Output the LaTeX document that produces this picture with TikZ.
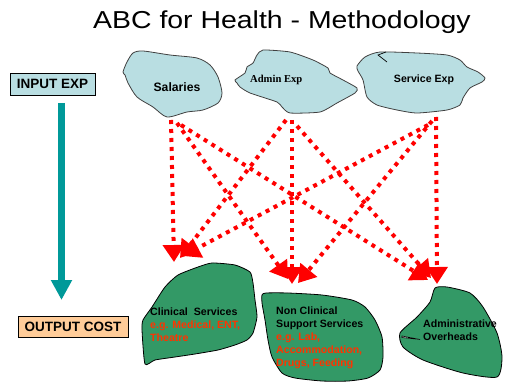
\documentclass[tikz,border=0pt]{standalone}
\usepackage{fontspec}
\setmainfont{Liberation Sans}
\newfontfamily\serifbold{Liberation Serif}
\newfontfamily\titlefont[FakeStretch=1.16]{Liberation Sans}
\usetikzlibrary{arrows.meta}
\definecolor{costblue}{HTML}{B9DEE2}
\definecolor{costgreen}{HTML}{339966}
\definecolor{costpeach}{HTML}{FFCC99}
\definecolor{costteal}{HTML}{009999}
\definecolor{egred}{HTML}{FF3300}
\begin{document}
\begin{tikzpicture}[x=1pt,y=-1pt,
  inblob/.style={fill=costblue,draw=black!75,line width=0.8pt},
  outblob/.style={fill=costgreen,draw=black,line width=0.8pt},
  labelbox/.style={draw=black,line width=0.8pt,font=\fontsize{13.5}{15}\selectfont\bfseries,inner sep=0pt},
  blobtext/.style={font=\fontsize{10.6}{13}\selectfont\bfseries,align=left,inner sep=0pt},
  flow/.style={draw=red,line width=4pt,dash pattern=on 4pt off 5pt,-{Triangle[length=17pt,width=21pt]}}]
\useasboundingbox (0,0) rectangle (506,385);

% title
\node[anchor=base,font=\titlefont\fontsize{24.5}{28}\selectfont] (title) at (282,29) {ABC for Health - Methodology};

% input and output labels
\node[labelbox,fill=costblue,minimum width=85pt,minimum height=22pt] (inexp) at (52.5,84) {INPUT EXP};
\node[labelbox,fill=costpeach,minimum width=110pt,minimum height=21pt] (outcost) at (73,326.5) {OUTPUT COST};
\coordinate (down-top) at (61.5,103);
\coordinate (down-end) at (61.5,300);
\draw[costteal,line width=7pt,-{Triangle[length=20pt,width=20pt]}] (down-top) -- (down-end);

% expense pools
\draw[inblob] plot[smooth cycle,tension=0.45] coordinates {
  (123,72) (127,62) (133,53) (143,51) (170,55) (197,58) (210,65) (218,77) (222,93)
  (218,103) (203,110) (187,112) (167,117) (153,107) (137,97) (128,83) (125,75)};
\node[font=\fontsize{12.2}{14}\selectfont\bfseries] (sal) at (177,87) {Salaries};

\draw[inblob] plot[smooth cycle,tension=0.35] coordinates {
  (235,80) (245,73) (247,67) (253,63) (257,55) (263,50) (290,52) (313,60) (328,68)
  (330,73) (343,80) (357,88) (355,93) (337,103) (320,112) (290,113) (282,107)
  (277,102) (250,93) (240,87) (237,83)};
\node[font=\fontsize{10.6}{12}\selectfont\serifbold\bfseries,anchor=west,inner sep=0pt] (adm) at (250,80) {Admin Exp};

\draw[inblob] plot[smooth cycle,tension=0.4] coordinates {
  (357,66) (365,57) (380,52) (417,53) (447,55) (460,60) (467,67) (478,72) (485,78)
  (482,82) (470,88) (463,98) (460,105) (447,110) (417,113) (397,110) (377,105)
  (367,97) (363,80) (358,71)};
\draw[black,line width=0.7pt] (386,52) -- (378,55) -- (387,62);
\node[font=\fontsize{10.6}{12}\selectfont\bfseries] (srv) at (424,80) {Service Exp};

% cost objects
\draw[outblob] plot[smooth cycle,tension=0.35] coordinates {
  (145,364) (142,330) (143,320) (152,307) (165,287) (178,275) (198,267) (212,263)
  (235,265) (250,272) (253,283) (255,300) (257,317) (253,333) (247,340) (235,345)
  (218,350) (195,354) (175,357) (155,360)};
\node[blobtext,anchor=west] (clin) at (150,325)
  {Clinical\ \ Services\\\textcolor{egred}{e.g. Medical, ENT,}\\\textcolor{egred}{Theatre}};

\draw[outblob] plot[smooth cycle,tension=0.4] coordinates {
  (262,295) (266,293) (288,293) (322,295) (352,300) (365,307) (375,320) (382,337)
  (383,357) (380,370) (368,378) (348,381) (322,381) (295,378) (282,373) (272,357)
  (268,340) (265,320) (262,303)};
\node[blobtext,anchor=west] (nonclin) at (276,338)
  {Non Clinical\\Support Services\\\textcolor{egred}{e.g. Lab,}\\\textcolor{egred}{Accommodation,}\\\textcolor{egred}{Drugs, Feeding}};

\draw[outblob] plot[smooth cycle,tension=0.4] coordinates {
  (435,288) (447,287) (470,293) (483,307) (497,333) (502,357) (497,377) (463,373)
  (423,360) (403,347) (400,333) (417,317) (430,302)};
\draw[black,line width=0.6pt,fill=white] (402,336) -- (420,339.5) -- (402,337.5) -- cycle;
\node[blobtext,anchor=west] (admov) at (423,330.5) {Administrative\\Overheads};

% allocation flows
\coordinate (sal-a) at (171,120);
\coordinate (sal-b) at (177,123);
\coordinate (sal-c) at (181,125);
\coordinate (adm-a) at (286,120);
\coordinate (adm-b) at (292,120);
\coordinate (adm-c) at (297,126);
\coordinate (srv-a) at (428,125);
\coordinate (srv-b) at (432,121);
\coordinate (srv-c) at (436,117);
\coordinate (clin-1) at (174,262);
\coordinate (clin-2) at (180,258);
\coordinate (clin-3) at (183,256);
\coordinate (nonclin-1) at (288,279);
\coordinate (nonclin-2) at (292,284);
\coordinate (nonclin-3) at (298,283);
\coordinate (admov-1) at (428,280);
\coordinate (admov-2) at (431,278);
\coordinate (admov-3) at (437,284);

\draw[flow] (sal-a) -- (clin-1);
\draw[flow] (sal-b) -- (nonclin-1);
\draw[flow] (sal-c) -- (admov-1);
\draw[flow] (adm-a) -- (clin-2);
\draw[flow] (adm-b) -- (nonclin-2);
\draw[flow] (adm-c) -- (admov-2);
\draw[flow] (srv-a) -- (clin-3);
\draw[flow] (srv-b) -- (nonclin-3);
\draw[flow] (srv-c) -- (admov-3);
\end{tikzpicture}
\end{document}
